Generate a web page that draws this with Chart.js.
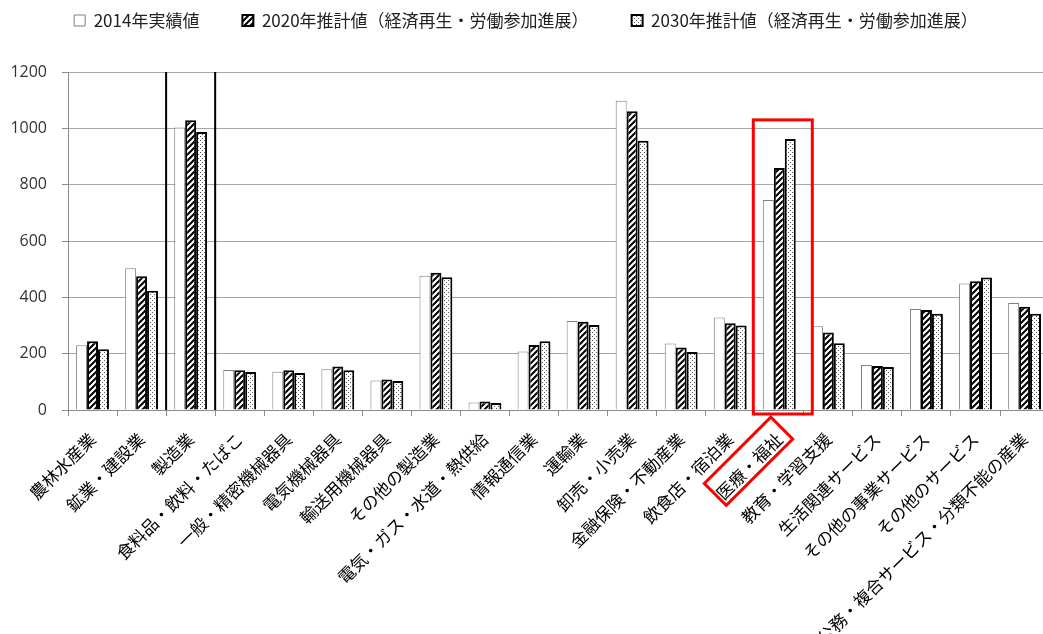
<!DOCTYPE html>
<html lang="ja">
<head>
<meta charset="utf-8">
<title>産業別就業者数</title>
<script src="https://cdn.jsdelivr.net/npm/chart.js@4/dist/chart.umd.min.js"></script>
<style>
  html, body { margin: 0; padding: 0; background: #fff; overflow: hidden; }
  #wrap { position: relative; width: 1052px; height: 634px; }
</style>
</head>
<body>
<div id="wrap"><canvas id="grafico"></canvas></div>
<script>
// ── Datos ─────────────────────────────
const categorias = [
  '農林水産業', '鉱業・建設業', '製造業', '食料品・飲料・たばこ', '一般・精密機械器具',
  '電気機械器具', '輸送用機械器具', 'その他の製造業', '電気・ガス・水道・熱供給', '情報通信業',
  '運輸業', '卸売・小売業', '金融保険・不動産業', '飲食店・宿泊業', '医療・福祉',
  '教育・学習支援', '生活関連サービス', 'その他の事業サービス', 'その他のサービス', '公務・複合サービス・分類不能の産業'
];
const serieNombres = ['2014年実績値', '2020年推計値（経済再生・労働参加進展）', '2030年推計値（経済再生・労働参加進展）'];
const v2014 = [230, 503, 1003, 142, 136, 145, 105, 477, 27, 208, 316, 1098, 236, 328, 746, 297, 160, 359, 449, 380];
const v2020 = [244, 475, 1029, 141, 141, 154, 108, 487, 30, 231, 313, 1061, 222, 308, 859, 275, 156, 355, 457, 367];
const v2030 = [216, 423, 987, 135, 131, 141, 103, 471, 25, 244, 302, 956, 206, 300, 962, 237, 153, 342, 470, 342];
const yTicks = [0, 200, 400, 600, 800, 1000, 1200];

const idxSeparado = 2;    // 製造業 (líneas verticales)
const idxResaltado = 14;  // 医療・福祉 (recuadro rojo)

// ── Patrones ──────────────────────────
function patronRayado() {
  const c = document.createElement('canvas');
  c.width = 6; c.height = 6;
  const g = c.getContext('2d');
  g.fillStyle = '#fff';
  g.fillRect(0, 0, 6, 6);
  g.strokeStyle = '#000';
  g.lineWidth = 2;
  g.beginPath();
  g.moveTo(-1, 7); g.lineTo(7, -1);
  g.moveTo(-1, 1); g.lineTo(1, -1);
  g.moveTo(5, 7);  g.lineTo(7, 5);
  g.stroke();
  return g.createPattern(c, 'repeat');
}

function patronPuntos() {
  const c = document.createElement('canvas');
  c.width = 4; c.height = 4;
  const g = c.getContext('2d');
  g.fillStyle = '#fff';
  g.fillRect(0, 0, 4, 4);
  g.fillStyle = '#555';
  g.fillRect(0, 0, 1, 1);
  g.fillRect(2, 2, 1, 1);
  return g.createPattern(c, 'repeat');
}

// ── Espacio bajo la leyenda ───────────
const legendGap = {
  id: 'legendGap',
  beforeInit(chart) {
    const fit = chart.legend.fit;
    chart.legend.fit = function () {
      fit.bind(chart.legend)();
      this.height += 33;
    };
  }
};

// ── Marcas extra (líneas y recuadros) ─
const marcas = {
  id: 'marcas',
  afterDatasetsDraw(chart) {
    const { ctx, chartArea, scales: { x, y } } = chart;
    const ancho = x.getPixelForValue(1) - x.getPixelForValue(0);

    ctx.save();
    // líneas verticales alrededor de 製造業
    const cx = x.getPixelForValue(idxSeparado);
    ctx.strokeStyle = '#000';
    ctx.lineWidth = 2;
    ctx.beginPath();
    [cx - ancho / 2, cx + ancho / 2].forEach(px => {
      ctx.moveTo(px, chartArea.top);
      ctx.lineTo(px, chartArea.bottom);
    });
    ctx.stroke();

    // recuadro rojo 医療・福祉
    const rx = x.getPixelForValue(idxResaltado);
    const top = y.getPixelForValue(1030);
    ctx.strokeStyle = '#ff0000';
    ctx.lineWidth = 3;
    ctx.strokeRect(rx - 26, top, 59, chartArea.bottom + 4 - top);

    // recuadro rojo en la etiqueta
    ctx.translate(rx, chartArea.bottom);
    ctx.rotate(-Math.PI / 4);
    ctx.strokeRect(-105, -1, 94, 31);
    ctx.restore();
  }
};

// ── Gráfica ───────────────────────────
const chart = new Chart(document.getElementById('grafico'), {
  type: 'bar',
  data: {
    labels: categorias,
    datasets: [
      {
        label: serieNombres[0],
        data: v2014,
        backgroundColor: '#fff',
        borderColor: '#7f7f7f',
        borderWidth: 1,
      },
      {
        label: serieNombres[1],
        data: v2020,
        backgroundColor: patronRayado(),
        borderColor: '#000',
        borderWidth: 2,
      },
      {
        label: serieNombres[2],
        data: v2030,
        backgroundColor: patronPuntos(),
        borderColor: '#000',
        borderWidth: 2,
      }
    ]
  },
  options: {
    responsive: true,
    maintainAspectRatio: false,
    animation: false,
    datasets: { bar: { categoryPercentage: 0.67, barPercentage: 1.0 } },
    layout: { padding: { top: -31, right: 0, bottom: 0, left: 0 } },
    plugins: {
      legend: {
        position: 'top',
        labels: {
          boxWidth: 11,
          boxHeight: 11,
          padding: 43,
          color: '#222',
          font: { family: '"Noto Sans CJK JP", sans-serif', size: 17 }
        }
      },
      tooltip: { enabled: false }
    },
    scales: {
      y: {
        min: 0,
        max: 1200,
        afterFit: s => { s.width = 68; },
        afterBuildTicks: s => { s.ticks = yTicks.map(v => ({ value: v })); },
        grid: {
          color: c => (c.tick && c.tick.value === 0) ? 'rgba(0,0,0,0)' : '#a6a6a6',
          tickColor: '#8c8c8c',
          tickLength: 6,
          lineWidth: 1
        },
        border: { display: true, color: '#8c8c8c' },
        ticks: {
          padding: 15,
          color: '#333',
          font: { family: '"Open Sans", sans-serif', size: 16 },
          callback: v => String(v)
        }
      },
      x: {
        afterFit: s => { s.height = 224; },
        border: { display: true, color: '#8c8c8c' },
        grid: {
          offset: true,
          drawOnChartArea: false,
          drawTicks: true,
          tickLength: 6,
          color: '#8c8c8c'
        },
        ticks: {
          autoSkip: false,
          maxRotation: 45,
          minRotation: 45,
          padding: 13,
          color: '#000',
          font: { family: '"Noto Sans CJK JP", sans-serif', size: 17 }
        }
      }
    }
  },
  plugins: [legendGap, marcas]
});
</script>
</body>
</html>
